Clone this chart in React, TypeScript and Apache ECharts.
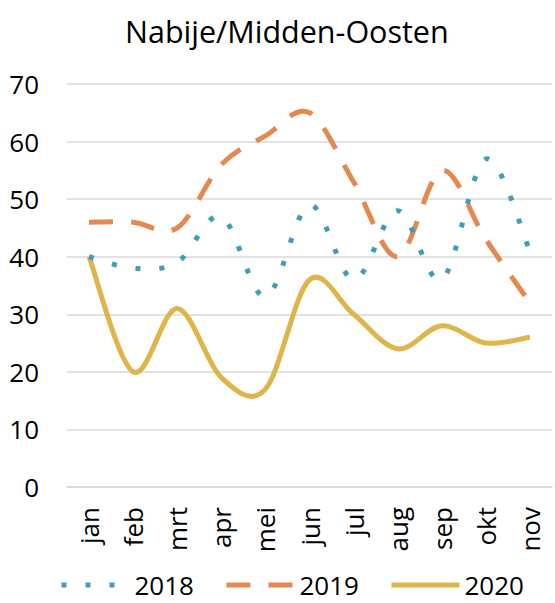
import React, { useEffect, useRef } from "react";
import * as echarts from "echarts";

const title = "Nabije/Midden-Oosten";
const months = ["jan", "feb", "mrt", "apr", "mei", "jun", "jul", "aug", "sep", "okt", "nov"];
const s2018 = [40, 38, 39, 47, 33, 49, 36, 48, 36, 57, 41];
const s2019 = [46, 46, 45, 56, 61, 65, 53, 40, 55, 43, 32];
const s2020 = [40, 20, 31, 19, 17, 36, 30, 24, 28, 25, 26];
const seriesNames = ["2018", "2019", "2020"];
const seriesValues = [s2018, s2019, s2020];
const colors = ["#3e9db8", "#e4894f", "#deb54a"];
const dashes: (number[] | null)[] = [[5, 19], [24, 18], null];

const FONT = "'Open Sans', 'Noto Sans', sans-serif";
const LW = 5;

function curveSeries(idx: number) {
  const values = seriesValues[idx];
  return {
    name: seriesNames[idx],
    type: "custom",
    z: 5 - idx,
    data: values.map((v, i) => [i, v]),
    encode: { x: 0, y: 1 },
    renderItem: (params: any, api: any) => {
      if (params.dataIndex !== 0) return null;
      const pts = values.map((v, i) => api.coord([i, v]));
      const n = pts.length;
      let d = `M${pts[0][0]},${pts[0][1]}`;
      for (let i = 0; i < n - 1; i++) {
        const p0 = pts[Math.max(i - 1, 0)];
        const p1 = pts[i];
        const p2 = pts[i + 1];
        const p3 = pts[Math.min(i + 2, n - 1)];
        const c1x = p1[0] + (p2[0] - p0[0]) / 6;
        const c1y = p1[1] + (p2[1] - p0[1]) / 6;
        const c2x = p2[0] - (p3[0] - p1[0]) / 6;
        const c2y = p2[1] - (p3[1] - p1[1]) / 6;
        d += ` C${c1x},${c1y} ${c2x},${c2y} ${p2[0]},${p2[1]}`;
      }
      return {
        type: "path",
        shape: { pathData: d },
        style: {
          fill: "none",
          stroke: colors[idx],
          lineWidth: LW,
          lineDash: dashes[idx] || undefined,
          lineCap: "butt",
          lineJoin: "round",
        },
      };
    },
  };
}

function legendSeries(idx: number) {
  return {
    name: seriesNames[idx],
    type: "line",
    data: [],
    symbol: "none",
    color: colors[idx],
    lineStyle: { color: colors[idx], width: LW, type: dashes[idx] || "solid" },
  };
}

export default function App() {
  const ref = useRef<HTMLDivElement>(null);
  useEffect(() => {
    if (!ref.current) return;
    const chart = echarts.init(ref.current, null, { renderer: "svg" });
    chart.setOption({
      animation: false,
      backgroundColor: "#ffffff",
      title: {
        text: title,
        left: 120,
        top: 10,
        textStyle: { fontFamily: FONT, fontSize: 30.5, fontWeight: "normal", color: "#000" },
      },
      legend: {
        bottom: 5,
        left: 59,
        padding: 0,
        itemWidth: 68,
        itemHeight: 14,
        itemGap: 30,
        textStyle: { fontFamily: FONT, fontSize: 26, lineHeight: 26, color: "#000" },
        data: seriesNames.map((n, i) => ({
          name: n,
          lineStyle: { color: colors[i], width: LW, type: dashes[i] || "solid", cap: "butt" },
          itemStyle: { opacity: 0 },
        })),
      },
      grid: { left: 67, right: 3, top: 84, bottom: 116, containLabel: false },
      xAxis: {
        type: "category",
        data: months,
        boundaryGap: true,
        axisLine: { show: true, lineStyle: { color: "#d9d9d9", width: 1.5 } },
        axisTick: { show: false },
        axisLabel: {
          rotate: 90,
          margin: 20,
          fontFamily: FONT,
          fontSize: 26,
          color: "#000",
        },
      },
      yAxis: {
        type: "value",
        min: 0,
        max: 70,
        interval: 10,
        axisLine: { show: false },
        axisTick: { show: false },
        splitLine: { lineStyle: { color: "#d9d9d9", width: 1.5 } },
        axisLabel: { margin: 28, fontFamily: FONT, fontSize: 26, color: "#000" },
      },
      series: [
        legendSeries(0),
        legendSeries(1),
        legendSeries(2),
        curveSeries(0),
        curveSeries(1),
        curveSeries(2),
      ],
    });
    return () => chart.dispose();
  }, []);
  return <div ref={ref} style={{ width: 555, height: 603, position: "absolute", left: 0, top: 0 }} />;
}
